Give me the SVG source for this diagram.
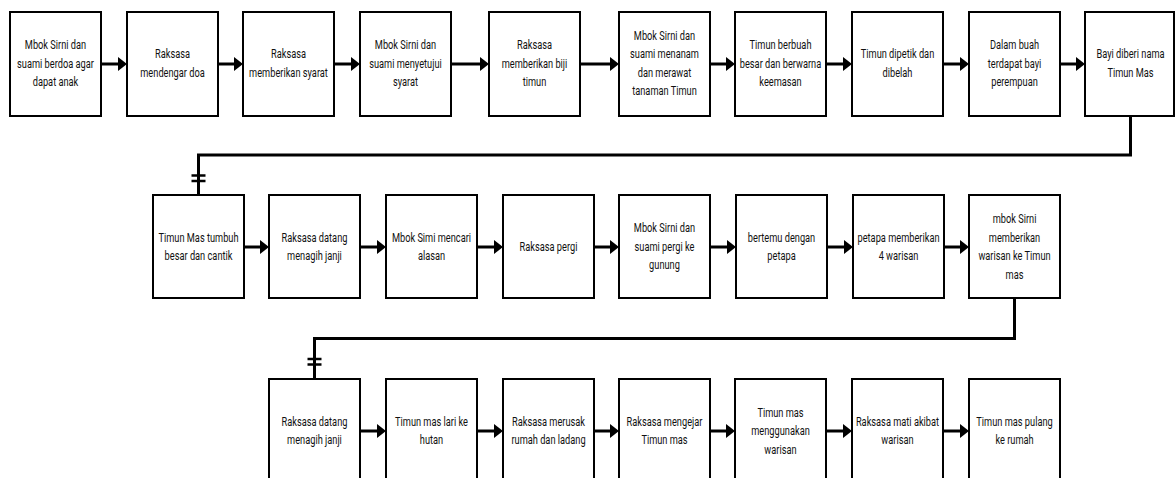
<svg xmlns="http://www.w3.org/2000/svg" width="1176" height="478" viewBox="0 0 1176 478">
<style>
.box{fill:#fff;stroke:#000;stroke-width:2}
.t{font-family:Roboto,"Liberation Sans",sans-serif;font-size:12.5px;fill:#111;text-anchor:middle}
.c{fill:none;stroke:#000;stroke-width:3}
.k{stroke:#000;stroke-width:2.5}
</style>
<defs>
<marker id="arr" markerUnits="userSpaceOnUse" markerWidth="10" markerHeight="14" viewBox="0 0 9 14" refX="3" refY="7" orient="auto"><path d="M0,0 L9,7 L0,14 z" fill="#000"/></marker>
</defs>
<rect width="1176" height="478" fill="#fff"/>
<g id="connectors">
<path class="c" marker-end="url(#arr)" d="M101,64 H121"/>
<path class="c" marker-end="url(#arr)" d="M218,64 H237"/>
<path class="c" marker-end="url(#arr)" d="M334,64 H354"/>
<path class="c" marker-end="url(#arr)" d="M451,64 H483"/>
<path class="c" marker-end="url(#arr)" d="M580,64 H613"/>
<path class="c" marker-end="url(#arr)" d="M710,64 H729"/>
<path class="c" marker-end="url(#arr)" d="M826,64 H846"/>
<path class="c" marker-end="url(#arr)" d="M943,64 H963"/>
<path class="c" marker-end="url(#arr)" d="M1060,64 H1079"/>
<path class="c" d="M1130.5,116 V155 H198.5 V195"/>
<line class="k" x1="191.5" y1="175.5" x2="205.5" y2="175.5"/>
<line class="k" x1="191.5" y1="181" x2="205.5" y2="181"/>
<path class="c" marker-end="url(#arr)" d="M244,247 H263"/>
<path class="c" marker-end="url(#arr)" d="M360,247 H380"/>
<path class="c" marker-end="url(#arr)" d="M477,247 H497"/>
<path class="c" marker-end="url(#arr)" d="M594,247 H613"/>
<path class="c" marker-end="url(#arr)" d="M710,247 H730"/>
<path class="c" marker-end="url(#arr)" d="M827,247 H847"/>
<path class="c" marker-end="url(#arr)" d="M944,247 H963"/>
<path class="c" d="M1014.5,298 V338.5 H314.5 V379"/>
<line class="k" x1="307.5" y1="359" x2="321.5" y2="359"/>
<line class="k" x1="307.5" y1="364.5" x2="321.5" y2="364.5"/>
<path class="c" marker-end="url(#arr)" d="M360,431 H380"/>
<path class="c" marker-end="url(#arr)" d="M477,431 H497"/>
<path class="c" marker-end="url(#arr)" d="M594,431 H613"/>
<path class="c" marker-end="url(#arr)" d="M710,431 H729"/>
<path class="c" marker-end="url(#arr)" d="M826,431 H846"/>
<path class="c" marker-end="url(#arr)" d="M943,431 H963"/>
</g>
<g id="n1"><rect class="box" x="10" y="12" width="91" height="104"/><text class="t" transform="translate(55.5,0) scale(0.74,1)"><tspan x="0" y="49.3">Mbok Sirni dan</tspan><tspan x="0" y="67.8">suami berdoa agar</tspan><tspan x="0" y="86.3">dapat anak</tspan></text></g>
<g id="n2"><rect class="box" x="127" y="12" width="91" height="104"/><text class="t" transform="translate(172.5,0) scale(0.74,1)"><tspan x="0" y="58.5">Raksasa</tspan><tspan x="0" y="77">mendengar doa</tspan></text></g>
<g id="n3"><rect class="box" x="243" y="12" width="91" height="104"/><text class="t" transform="translate(288.5,0) scale(0.74,1)"><tspan x="0" y="58.5">Raksasa</tspan><tspan x="0" y="77">memberikan syarat</tspan></text></g>
<g id="n4"><rect class="box" x="360" y="12" width="91" height="104"/><text class="t" transform="translate(405.5,0) scale(0.74,1)"><tspan x="0" y="49.3">Mbok Sirni dan</tspan><tspan x="0" y="67.8">suami menyetujui</tspan><tspan x="0" y="86.3">syarat</tspan></text></g>
<g id="n5"><rect class="box" x="489" y="12" width="91" height="104"/><text class="t" transform="translate(534.5,0) scale(0.74,1)"><tspan x="0" y="49.3">Raksasa</tspan><tspan x="0" y="67.8">memberikan biji</tspan><tspan x="0" y="86.3">timun</tspan></text></g>
<g id="n6"><rect class="box" x="619" y="12" width="91" height="104"/><text class="t" transform="translate(664.5,0) scale(0.74,1)"><tspan x="0" y="40">Mbok Sirni dan</tspan><tspan x="0" y="58.5">suami menanam</tspan><tspan x="0" y="77">dan merawat</tspan><tspan x="0" y="95.5">tanaman Timun</tspan></text></g>
<g id="n7"><rect class="box" x="735" y="12" width="91" height="104"/><text class="t" transform="translate(780.5,0) scale(0.74,1)"><tspan x="0" y="49.3">Timun berbuah</tspan><tspan x="0" y="67.8">besar dan berwarna</tspan><tspan x="0" y="86.3">keemasan</tspan></text></g>
<g id="n8"><rect class="box" x="852" y="12" width="91" height="104"/><text class="t" transform="translate(897.5,0) scale(0.74,1)"><tspan x="0" y="58.5">Timun dipetik dan</tspan><tspan x="0" y="77">dibelah</tspan></text></g>
<g id="n9"><rect class="box" x="969" y="12" width="91" height="104"/><text class="t" transform="translate(1014.5,0) scale(0.74,1)"><tspan x="0" y="49.3">Dalam buah</tspan><tspan x="0" y="67.8">terdapat bayi</tspan><tspan x="0" y="86.3">perempuan</tspan></text></g>
<g id="n10"><rect class="box" x="1085" y="12" width="89" height="104"/><text class="t" transform="translate(1130.5,0) scale(0.74,1)"><tspan x="0" y="58.5">Bayi diberi nama</tspan><tspan x="0" y="77">Timun Mas</tspan></text></g>
<g id="n11"><rect class="box" x="153" y="195" width="91" height="103"/><text class="t" transform="translate(198.5,0) scale(0.74,1)"><tspan x="0" y="242">Timun Mas tumbuh</tspan><tspan x="0" y="260.5">besar dan cantik</tspan></text></g>
<g id="n12"><rect class="box" x="269" y="195" width="91" height="103"/><text class="t" transform="translate(314.5,0) scale(0.74,1)"><tspan x="0" y="242">Raksasa datang</tspan><tspan x="0" y="260.5">menagih janji</tspan></text></g>
<g id="n13"><rect class="box" x="386" y="195" width="91" height="103"/><text class="t" transform="translate(431.5,0) scale(0.74,1)"><tspan x="0" y="242">Mbok Simi mencari</tspan><tspan x="0" y="260.5">alasan</tspan></text></g>
<g id="n14"><rect class="box" x="503" y="195" width="91" height="103"/><text class="t" transform="translate(548.5,0) scale(0.74,1)"><tspan x="0" y="251.3">Raksasa pergi</tspan></text></g>
<g id="n15"><rect class="box" x="619" y="195" width="91" height="103"/><text class="t" transform="translate(664.5,0) scale(0.74,1)"><tspan x="0" y="232.5">Mbok Sirni dan</tspan><tspan x="0" y="251">suami pergi ke</tspan><tspan x="0" y="269.5">gunung</tspan></text></g>
<g id="n16"><rect class="box" x="736" y="195" width="91" height="103"/><text class="t" transform="translate(781.5,0) scale(0.74,1)"><tspan x="0" y="242">bertemu dengan</tspan><tspan x="0" y="260.5">petapa</tspan></text></g>
<g id="n17"><rect class="box" x="853" y="195" width="91" height="103"/><text class="t" transform="translate(898.5,0) scale(0.74,1)"><tspan x="0" y="242">petapa memberikan</tspan><tspan x="0" y="260.5">4 warisan</tspan></text></g>
<g id="n18"><rect class="box" x="969" y="195" width="91" height="103"/><text class="t" transform="translate(1014.5,0) scale(0.74,1)"><tspan x="0" y="223.3">mbok Sirni</tspan><tspan x="0" y="241.8">memberikan</tspan><tspan x="0" y="260.3">warisan ke Timun</tspan><tspan x="0" y="278.8">mas</tspan></text></g>
<g id="n19"><rect class="box" x="269" y="379" width="91" height="104"/><text class="t" transform="translate(314.5,0) scale(0.74,1)"><tspan x="0" y="426">Raksasa datang</tspan><tspan x="0" y="444.5">menagih janji</tspan></text></g>
<g id="n20"><rect class="box" x="386" y="379" width="91" height="104"/><text class="t" transform="translate(431.5,0) scale(0.74,1)"><tspan x="0" y="426">Timun mas lari ke</tspan><tspan x="0" y="444.5">hutan</tspan></text></g>
<g id="n21"><rect class="box" x="503" y="379" width="91" height="104"/><text class="t" transform="translate(548.5,0) scale(0.74,1)"><tspan x="0" y="426">Raksasa merusak</tspan><tspan x="0" y="444.5">rumah dan ladang</tspan></text></g>
<g id="n22"><rect class="box" x="619" y="379" width="91" height="104"/><text class="t" transform="translate(664.5,0) scale(0.74,1)"><tspan x="0" y="426">Raksasa mengejar</tspan><tspan x="0" y="444.5">Timun mas</tspan></text></g>
<g id="n23"><rect class="box" x="735" y="379" width="91" height="104"/><text class="t" transform="translate(780.5,0) scale(0.74,1)"><tspan x="0" y="416.8">Timun mas</tspan><tspan x="0" y="435.3">menggunakan</tspan><tspan x="0" y="453.8">warisan</tspan></text></g>
<g id="n24"><rect class="box" x="852" y="379" width="91" height="104"/><text class="t" transform="translate(897.5,0) scale(0.74,1)"><tspan x="0" y="426">Raksasa mati akibat</tspan><tspan x="0" y="444.5">warisan</tspan></text></g>
<g id="n25"><rect class="box" x="969" y="379" width="91" height="104"/><text class="t" transform="translate(1014.5,0) scale(0.74,1)"><tspan x="0" y="426">Timun mas pulang</tspan><tspan x="0" y="444.5">ke rumah</tspan></text></g>
</svg>
